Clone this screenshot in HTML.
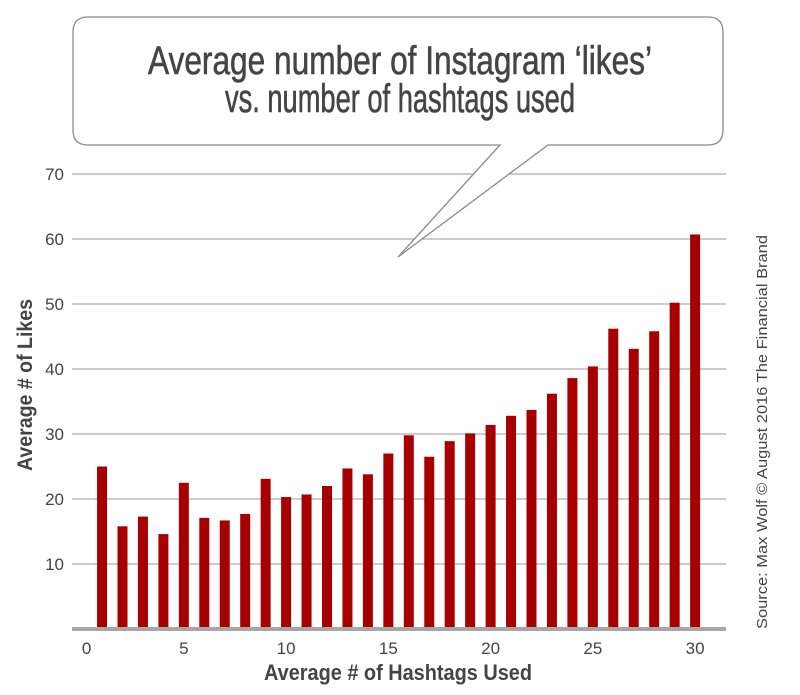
<!DOCTYPE html>
<html><head><meta charset="utf-8"><style>
body{margin:0;background:#fff;}
svg{display:block;font-family:"Liberation Sans",sans-serif;}
</style></head><body>
<svg id="chart" width="800" height="695" viewBox="0 0 800 695">
  <g id="grid"></g>
  <g id="bars"></g>
  <line x1="72" y1="629" x2="726" y2="629" stroke="#a6a6a6" stroke-width="4"/>
  <g id="xticks"></g>
  <g id="yticks"></g>
  <g>
    <path d="M88,17 H708 Q723,17 723,32 V130 Q723,145 708,145 H548 L398,257 L500,145 H88 Q73,145 73,130 V32 Q73,17 88,17 Z" fill="#fff" stroke="#8a8a8a" stroke-width="1.3"/>
    <text x="400" y="74" text-anchor="middle" font-size="40" fill="#444" stroke="#444" stroke-width="0.6" textLength="504" lengthAdjust="spacingAndGlyphs">Average number of Instagram ‘likes’</text>
    <text x="400" y="112" text-anchor="middle" font-size="40" fill="#444" stroke="#444" stroke-width="0.6" textLength="350" lengthAdjust="spacingAndGlyphs">vs. number of hashtags used</text>
  </g>
  <text x="398" y="680" text-anchor="middle" font-size="22" font-weight="bold" fill="#444" textLength="268" lengthAdjust="spacingAndGlyphs">Average # of Hashtags Used</text>
  <text transform="translate(32,385) rotate(-90)" text-anchor="middle" font-size="21" font-weight="bold" fill="#444" textLength="172" lengthAdjust="spacingAndGlyphs">Average # of Likes</text>
  <text transform="translate(767,432) rotate(-90)" text-anchor="middle" font-size="15" fill="#444" textLength="394" lengthAdjust="spacingAndGlyphs">Source: Max Wolf © August 2016 The Financial Brand</text>
</svg>
<script>
const hashtags = [1,2,3,4,5,6,7,8,9,10,11,12,13,14,15,16,17,18,19,20,21,22,23,24,25,26,27,28,29,30];
const likes = [25,15.8,17.3,14.6,22.5,17.1,16.7,17.7,23.1,20.3,20.7,22,24.7,23.8,27,29.8,26.5,28.9,30.1,31.4,32.8,33.7,36.2,38.6,40.4,46.2,43.1,45.8,50.2,60.7];
const yTicks = [10,20,30,40,50,60,70];
const xTicks = [0,5,10,15,20,25,30];

const NS = "http://www.w3.org/2000/svg";
function xs(v){ return 81.6 + v*20.45; }
function ys(v){ return 629 - v*6.5; }
function mk(tag, attrs, parent){
  const e = document.createElementNS(NS, tag);
  for (const k in attrs) e.setAttribute(k, attrs[k]);
  parent.appendChild(e);
  return e;
}
const grid = document.getElementById('grid');
const yt = document.getElementById('yticks');
yTicks.forEach(v=>{
  const l = mk('line',{x1:72,x2:726,y1:ys(v),y2:ys(v),stroke:'#9a9a9a','stroke-width':1},grid);
  
  
  const t = mk('text',{x:64,y:ys(v)+6,'text-anchor':'end','font-size':17,fill:'#444'},yt);
  t.textContent = v;
  
  
});
const xt = document.getElementById('xticks');
xTicks.forEach(v=>{
  const t = mk('text',{x:xs(v)+(v===0?5:0),y:654,'text-anchor':'middle','font-size':17,fill:'#444'},xt);
  t.textContent = v;
  
  
});
const bars = document.getElementById('bars');
hashtags.forEach((h,i)=>{
  const r = mk('rect',{x:xs(h)-5,y:ys(likes[i]),width:10,height:629-ys(likes[i]),fill:'#a80000'},bars);
  
  
});
</script>
</body></html>
